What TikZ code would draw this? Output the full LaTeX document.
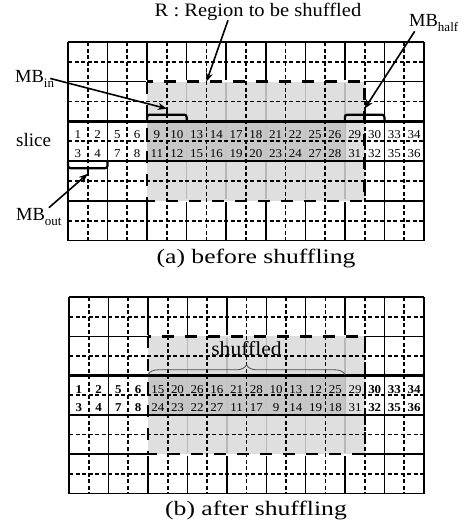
\documentclass[tikz,border=0pt]{standalone}
\usepackage{fontspec}
\setmainfont[FakeStretch=1.08]{Liberation Serif}
\newfontfamily\capfont[FakeStretch=1.25]{Liberation Serif}
\newfontfamily\labelfont{Liberation Serif}
\usepackage{tikz}
\usetikzlibrary{arrows.meta,decorations.pathreplacing}

\newcommand{\fs}[1]{\fontsize{#1}{#1}\selectfont}
\newcommand{\lsub}[1]{\raisebox{-5pt}{\fs{13}#1}}

% 9 x 5 macroblocks, the region R and the slice
\newcommand{\mbgrid}{%
	\foreach \i in {0,...,9} \draw [mbline] (\i, 0) -- (\i, 5);
	\foreach \j in {0,...,5} \draw [mbline] (0, \j) -- (9, \j);
	\draw [white, line width=2.8pt] (2, 1) rectangle (7.5, 4);
	\fill [regionfill] (2, 1) rectangle (7.5, 4);
	\fill [slicefill] (2, 2) rectangle (7, 3);
	\foreach \i in {0,...,8} \draw [halfline] (\i+0.5, 0) -- (\i+0.5, 5);
	\foreach \j in {0,...,4} \draw [halfline] (0, \j+0.5) -- (9, \j+0.5);
	\draw [regionline] (2, 1) rectangle (7.5, 4);
	\draw [sliceline] (0, 2) rectangle (9, 3);
}

\begin{document}
\begin{tikzpicture}[x=1pt, y=-1pt,
		mbline/.style={line width=1.5pt},
		halfline/.style={line width=1.8pt, dash pattern=on 4pt off 2.5pt},
		regionfill/.style={fill=black!15, fill opacity=0.85},
		slicefill/.style={fill=black!23, fill opacity=0.85},
		regionline/.style={line width=2.5pt, dash pattern=on 12pt off 11pt},
		sliceline/.style={line width=2.6pt},
		bracket/.style={line width=2.2pt, rounded corners=2.5pt},
		pointer/.style={line width=1.6pt, -{Stealth[length=9pt, width=7pt]}},
		brace/.style={decorate, decoration={brace, amplitude=10pt}, black!70, line width=0.8pt},
		num/.style={anchor=base, inner sep=0pt, font=\fs{12}},
		numb/.style={num, font=\fs{12}\bfseries},
		txt/.style={inner sep=0pt, font=\labelfont\fs{18.5}},
		captext/.style={inner sep=0pt, font=\capfont\fs{20.5}}]
	\useasboundingbox (0, 0) rectangle (473, 531);

	% (a) before shuffling
	\begin{scope}[shift={(68, 42)}, x=39.55pt, y=-39.7pt]
		\mbgrid
		\foreach \n [count=\k from 0] in {1,2,5,6,9,10,13,14,17,18,21,22,25,26,29,30,33,34}
			\node [num] (a-t\k) at (0.25+0.5*\k, 2.44) {\n};
		\foreach \n [count=\k from 0] in {3,4,7,8,11,12,15,16,19,20,23,24,27,28,31,32,35,36}
			\node [num] (a-b\k) at (0.25+0.5*\k, 2.9) {\n};
		\draw [bracket] (2, 2) -- (2, 1.83) -- (3, 1.83) -- (3, 2);
		\draw [bracket] (2.5, 1.83) -- (2.5, 1.68);
		\draw [bracket] (7, 2) -- (7, 1.83) -- (8, 1.83) -- (8, 2);
		\draw [bracket] (7.5, 1.83) -- (7.5, 1.68);
		\draw [bracket] (0, 3) -- (0, 3.18) -- (1, 3.18) -- (1, 3);
		\draw [bracket] (0.5, 3.18) -- (0.5, 3.32);
		\coordinate (intip) at (2.5, 1.68);
		\coordinate (halftip) at (7.5, 1.68);
		\coordinate (outtip) at (0.5, 3.32);
		\coordinate (rtip) at (3.5, 1);
	\end{scope}
	\node [inner sep=0pt, font=\fs{19}, anchor=base] (rlabel) at (258, 16) {R : Region to be shuffled};
	\node [txt, anchor=base west] (mbin) at (15, 82) {MB\lsub{in}};
	\node [txt, anchor=base west] (mbhalf) at (409, 26) {MB\lsub{half}};
	\node [txt, font=\labelfont\fs{19}, anchor=base west] (slice) at (16, 146) {slice};
	\node [txt, anchor=base west] (mbout) at (16, 220) {MB\lsub{out}};
	\draw [pointer] ([xshift=-30pt]rlabel.south) -- (rtip);
	\draw [pointer] ([xshift=-4pt]mbin.east) -- (intip);
	\draw [pointer] ([xshift=-19pt]mbhalf.south) -- (halftip);
	\draw [pointer] ([xshift=10pt]mbout.north) -- (outtip);
	\node [captext, anchor=base] (capa) at (256, 263) {(a) before shuffling};

	% (b) after shuffling
	\begin{scope}[shift={(69, 297)}, x=39.45pt, y=-39.3pt]
		\mbgrid
		\foreach \n [count=\k from 0] in {1,2,5,6}
			\node [numb] (b-t\k) at (0.25+0.5*\k, 2.45) {\n};
		\foreach \n [count=\k from 4] in {15,20,26,16,21,28,10,13,12,25,29}
			\node [num] (b-t\k) at (0.25+0.5*\k, 2.45) {\n};
		\foreach \n [count=\k from 15] in {30,33,34}
			\node [numb] (b-t\k) at (0.25+0.5*\k, 2.45) {\n};
		\foreach \n [count=\k from 0] in {3,4,7,8}
			\node [numb] (b-b\k) at (0.25+0.5*\k, 2.91) {\n};
		\foreach \n [count=\k from 4] in {24,23,22,27,11,17,9,14,19,18,31}
			\node [num] (b-b\k) at (0.25+0.5*\k, 2.91) {\n};
		\foreach \n [count=\k from 15] in {32,35,36}
			\node [numb] (b-b\k) at (0.25+0.5*\k, 2.91) {\n};
		\draw [brace] (2, 1.98) -- (7, 1.98);
		\node [inner sep=0pt, font=\fs{20}, anchor=base] (shuf) at (4.5, 1.5) {shuffled};
	\end{scope}
	\node [captext, anchor=base] (capb) at (256, 515) {(b) after shuffling};
\end{tikzpicture}
\end{document}
